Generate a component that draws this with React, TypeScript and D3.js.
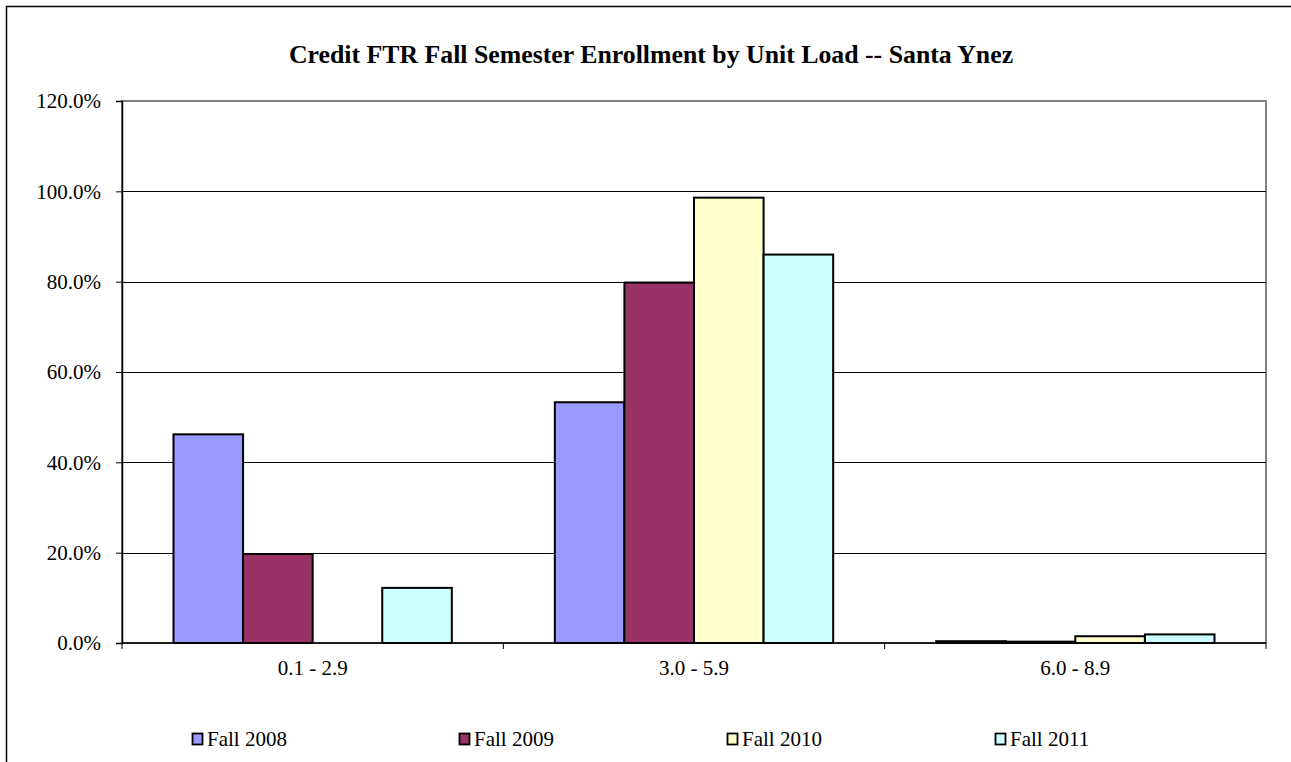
import React, { useEffect, useRef } from "react";
import * as d3 from "d3";

const categories = ["0.1 - 2.9", "3.0 - 5.9", "6.0 - 8.9"];
const seriesNames = ["Fall 2008", "Fall 2009", "Fall 2010", "Fall 2011"];
const fall2008 = [46.2, 53.3, 0.4];
const fall2009 = [19.7, 79.8, 0.3];
const fall2010 = [0, 98.6, 1.5];
const fall2011 = [12.2, 86.0, 1.9];
const colors = ["#9999ff", "#993366", "#ffffcc", "#ccffff"];
const yTicks = [0, 20, 40, 60, 80, 100, 120];

export default function App() {
  const ref = useRef<SVGSVGElement>(null);

  useEffect(() => {
    const svg = d3.select(ref.current);
    svg.selectAll("*").remove();
    const font = "'Liberation Serif', 'Times New Roman', serif";
    const seriesData = [fall2008, fall2009, fall2010, fall2011];

    const left = 122, top = 101, right = 1266, bottom = 643;

    // outer chart border
    svg.append("rect")
      .attr("x", 6.5).attr("y", 6.5)
      .attr("width", 1300).attr("height", 800)
      .attr("fill", "white").attr("stroke", "black").attr("stroke-width", 1.5);

    svg.append("text")
      .attr("x", 651).attr("y", 63)
      .attr("text-anchor", "middle")
      .style("font-family", font).style("font-weight", "bold").style("font-size", "25.8px")
      .text("Credit FTR Fall Semester Enrollment by Unit Load -- Santa Ynez");

    const y = d3.scaleLinear().domain([0, 120]).range([bottom, top]);
    const x0 = d3.scaleBand().domain(categories).range([left, right]).paddingInner(0).paddingOuter(0);
    const x1 = d3.scaleBand().domain(seriesNames).range([0, x0.bandwidth()]).paddingInner(0).paddingOuter(0.74);

    // plot area border
    svg.append("rect")
      .attr("x", left).attr("y", top)
      .attr("width", right - left).attr("height", bottom - top)
      .attr("fill", "none").attr("stroke", "#808080").attr("stroke-width", 2);

    // gridlines
    svg.selectAll(".grid")
      .data(yTicks.filter((t) => t > 0 && t < 120))
      .join("line")
      .attr("x1", left).attr("x2", right)
      .attr("y1", (d) => Math.round(y(d)) + 0.5).attr("y2", (d) => Math.round(y(d)) + 0.5)
      .attr("stroke", "black").attr("stroke-width", 1);

    // bars
    const g = svg.append("g");
    seriesNames.forEach((name, si) => {
      g.selectAll(".bar" + si)
        .data(categories.map((c, ci) => ({ c, v: seriesData[si][ci] })).filter((d) => d.v > 0))
        .join("rect")
        .attr("x", (d) => (x0(d.c) as number) + (x1(name) as number))
        .attr("y", (d) => y(d.v))
        .attr("width", x1.bandwidth())
        .attr("height", (d) => bottom - y(d.v))
        .attr("fill", colors[si])
        .attr("stroke", "black").attr("stroke-width", 2);
    });

    // y axis
    const yAxis = svg.append("g")
      .attr("transform", `translate(${left},0)`)
      .call(d3.axisLeft(y).tickValues(yTicks).tickSize(6).tickPadding(15).tickFormat((d) => (d as number).toFixed(1) + "%"));
    yAxis.attr("font-size", null).attr("font-family", null);
    yAxis.select(".domain").attr("stroke", "black").attr("stroke-width", 1.5);
    yAxis.selectAll("text").style("font-family", font).style("font-size", "21px").attr("fill", "black");

    // x axis
    const xAxis = svg.append("g").attr("transform", `translate(0,${bottom})`);
    xAxis.append("line").attr("x1", left).attr("x2", right).attr("y1", 0).attr("y2", 0)
      .attr("stroke", "black").attr("stroke-width", 1.5);
    xAxis.selectAll(".xt")
      .data([0, 1, 2, 3])
      .join("line")
      .attr("x1", (i) => left + i * x0.bandwidth()).attr("x2", (i) => left + i * x0.bandwidth())
      .attr("y1", 0).attr("y2", 6)
      .attr("stroke", "black");
    xAxis.selectAll(".xl")
      .data(categories)
      .join("text")
      .attr("x", (d) => (x0(d) as number) + x0.bandwidth() / 2)
      .attr("y", 32)
      .attr("text-anchor", "middle")
      .style("font-family", font).style("font-size", "21px")
      .text((d) => d);

    // legend
    const legendX = [192, 459, 727, 995];
    const lg = svg.selectAll(".lg")
      .data(seriesNames)
      .join("g")
      .attr("transform", (d, i) => `translate(${legendX[i]},746)`);
    lg.append("rect")
      .attr("x", 0.5).attr("y", -12.5).attr("width", 10).attr("height", 11)
      .attr("fill", (d, i) => colors[i])
      .attr("stroke", "black").attr("stroke-width", 1.8);
    lg.append("text")
      .attr("x", 15).attr("y", 0)
      .style("font-family", font).style("font-size", "21px")
      .text((d) => d);
  }, []);

  return (
    <svg ref={ref} width={1291} height={762} style={{ position: "absolute", left: 0, top: 0 }} />
  );
}
